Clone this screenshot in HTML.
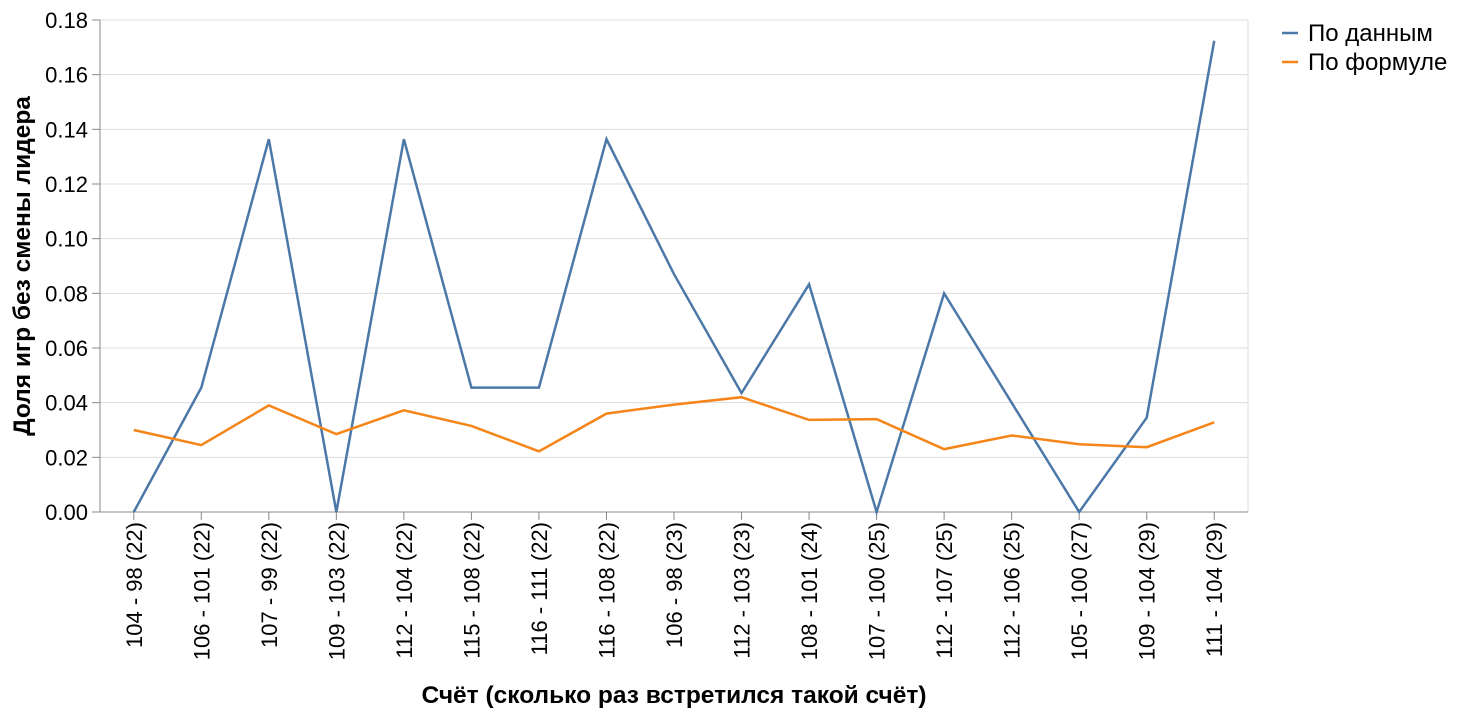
<!DOCTYPE html>
<html><head><meta charset="utf-8"><style>
html,body{margin:0;padding:0;background:#fff;}
svg{display:block;font-family:"Liberation Sans",Arial,sans-serif;}
</style></head><body>
<svg id="chart" width="1460" height="718"></svg>
<script>
const categories=["104 - 98 (22)","106 - 101 (22)","107 - 99 (22)","109 - 103 (22)","112 - 104 (22)","115 - 108 (22)","116 - 111 (22)","116 - 108 (22)","106 - 98 (23)","112 - 103 (23)","108 - 101 (24)","107 - 100 (25)","112 - 107 (25)","112 - 106 (25)","105 - 100 (27)","109 - 104 (29)","111 - 104 (29)"];
const dataValues=[0,0.0455,0.1364,0,0.1364,0.0455,0.0455,0.1364,0.087,0.0435,0.0833,0,0.08,0.04,0,0.0345,0.1724];
const formulaValues=[0.030,0.0245,0.039,0.0285,0.0372,0.0315,0.0222,0.036,0.0393,0.042,0.0337,0.034,0.023,0.028,0.0248,0.0237,0.0328];
const yTicks=[0,0.02,0.04,0.06,0.08,0.10,0.12,0.14,0.16,0.18];
const seriesNames=["По данным","По формуле"];

const NS="http://www.w3.org/2000/svg";
const svg=document.getElementById('chart');
const L=100,R=1248,T=20,B=512,yMax=0.18;
const step=(R-L)/categories.length;
function xs(i){return L+step*(i+0.5);}
function ys(v){return B-(v/yMax)*(B-T);}
function mk(tag,attrs,parent){const e=document.createElementNS(NS,tag);for(const k in attrs)e.setAttribute(k,attrs[k]);(parent||svg).appendChild(e);return e;}

const grid=mk('g',{});


yTicks.forEach(v=>{
  const l=mk('line',{x1:L,x2:R,y1:ys(v),y2:ys(v),stroke:'#ddd','stroke-width':1},grid);
  
  
});
const yAxis=mk('g',{});


mk('line',{x1:L,x2:L,y1:T,y2:B,stroke:'#888'},yAxis);
yTicks.forEach(v=>{
  mk('line',{x1:L-8,x2:L,y1:ys(v),y2:ys(v),stroke:'#888'},yAxis);
  const t=mk('text',{x:L-12,y:ys(v)+8,'text-anchor':'end','font-size':22,fill:'#000'},yAxis);
  t.textContent=v.toFixed(2);
  
  
});
mk('line',{x1:R,x2:R,y1:T,y2:B,stroke:'#ddd'},yAxis);
const xAxis=mk('g',{});


mk('line',{x1:L,x2:R,y1:B,y2:B,stroke:'#888'},xAxis);
categories.forEach((c,i)=>{
  const x=xs(i);
  mk('line',{x1:x,x2:x,y1:B,y2:B+8,stroke:'#888'},xAxis);
  const t=mk('text',{x:0,y:0,'text-anchor':'end','font-size':22,fill:'#000',transform:`translate(${x+8},${B+10}) rotate(-90)`},xAxis);
  t.textContent=c;
  
  
});
const xt=mk('text',{x:674,y:703,'text-anchor':'middle','font-size':24.5,'font-weight':'bold'});
xt.textContent="Счёт (сколько раз встретился такой счёт)";


const yt=mk('text',{x:0,y:0,'text-anchor':'middle','font-size':24.5,'font-weight':'bold',transform:`translate(30,266) rotate(-90)`});
yt.textContent="Доля игр без смены лидера";



function line(vals,color,name){
  const p=mk('path',{d:vals.map((v,i)=>(i?'L':'M')+xs(i)+','+ys(v)).join(''),fill:'none',stroke:color,'stroke-width':2.5});
  
  
}
line(dataValues,'#4c78a8','series-po-dannym');
line(formulaValues,'#f58518','series-po-formule');

const colors=['#4c78a8','#f58518'];
seriesNames.forEach((n,i)=>{
  const g=mk('g',{});
  
  
  const y=33+i*29;
  mk('line',{x1:1282,x2:1298,y1:y,y2:y,stroke:colors[i],'stroke-width':2.5},g);
  const t=mk('text',{x:1308,y:y+8,'font-size':24,fill:'#000'},g);
  t.textContent=n;
});
</script>
</body></html>
